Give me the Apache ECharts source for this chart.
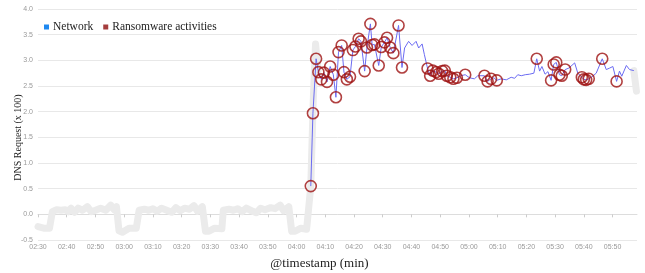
<!DOCTYPE html>
<html>
<head>
<meta charset="utf-8">
<script src="https://cdn.jsdelivr.net/npm/echarts@6/dist/echarts.min.js"></script>
<style>
  html, body { margin: 0; padding: 0; background: #fff; }
  #chart { width: 645px; height: 273px; }
</style>
</head>
<body>
<div id="chart"></div>
<script>
// time in minutes since 00:00, values in hundreds of DNS requests
var baseTime = [150,152,154,155,156.5,158,159.5,160.5,161.5,162.7,164,165.5,167.2,168.5,170,171.8,173.6,175.3,176.5,177.3,178.2,179.4,181.7,184.2,
  185.2,187,188.5,190,191.5,193,194.8,196.5,198,199.5,201,202.7,204.3,205.5,207.2,208.3,209.5,211.5,214,
  214.5,216.5,218,219.5,221,222.5,224.3,226,227.5,229,231,232.5,234.3,235.5,237.3,238.3,239.5,241.5,243.5,
  244.95,245.8,246.6,247.5];
var baseValue = [-0.24,-0.27,-0.27,0.05,0.09,0.08,0.09,0.05,0.12,0.04,0.12,0.08,0.15,0.05,0.08,0.12,0.08,0.18,0.09,0.15,-0.32,-0.35,-0.27,-0.27,
  0.08,0.1,0.08,0.11,0.06,0.12,0.08,0.04,0.13,0.07,0.12,0.1,0.17,0.06,0.15,-0.33,-0.33,-0.27,-0.28,
  0.08,0.1,0.08,0.11,0.05,0.12,0.07,0.03,0.12,0.09,0.13,0.11,0.18,0.07,0.15,-0.33,-0.33,-0.27,-0.29,
  0.55,2.2,3.32,2.8];
var baseEndTime = [357.4, 358.3];
var baseEndValue = [2.8, 2.4];

var networkTime = [244.95,245.7,246.8,247.6,248.6,249.5,250.6,251.7,252.8,253.7,254.6,255.7,256.5,257.5,258.6,259.6,260.5,261.6,262.4,263.7,264.5,265.7,266.3,267.1,268.6,269.5,270.6,271.5,272.6,273.7,275.5,276.7,
  277.6,279.0,280.2,281.6,282.5,283.7,284.5,
  285.6,286.5,287.4,288.6,289.5,290.7,291.6,292.3,293.5,294.6,295.8,
  297.2,298.7,300.2,301.9,303.1,305.4,306.5,307.7,308.7,309.7,
  311.2,313.0,314.7,315.9,317.0,318.2,319.6,321.1,322.6,
  323.6,324.6,325.4,326.5,327.5,328.6,329.5,330.4,331.5,332.3,333.5,334.8,336.8,337.9,
  339.3,340.0,340.8,341.7,343.1,344.3,346.4,347.8,349.0,350.1,351.4,352.4,353.2,354.8,355.9,357.4];
var networkValue = [0.55,1.97,3.03,2.77,2.63,2.76,2.58,2.88,2.72,2.28,3.16,3.29,2.77,2.63,2.68,3.2,3.27,3.42,3.37,2.79,3.25,3.71,3.30,3.31,2.9,3.26,3.35,3.44,3.25,3.14,3.68,2.86,
  3.24,3.37,3.29,3.37,3.24,3.32,3.11,
  2.84,2.70,2.80,2.77,2.74,2.79,2.80,2.70,2.67,2.64,2.66,
  2.70,2.72,2.66,2.64,2.70,2.70,2.59,2.64,2.66,2.61,
  2.64,2.62,2.67,2.65,2.72,2.70,2.72,2.73,2.75,
  3.03,2.79,2.88,2.73,2.78,2.61,2.92,2.96,2.72,2.70,2.82,2.85,2.95,2.75,
  2.67,2.63,2.62,2.64,2.69,2.75,3.03,2.82,2.85,2.88,2.59,2.79,2.69,2.90,2.82,2.80];

var ransomwareTime = [244.95,245.7,246.8,247.6,248.6,249.5,250.6,251.7,252.8,253.7,254.6,255.7,256.5,257.5,258.6,259.6,260.5,261.6,262.4,263.7,264.5,265.7,266.3,267.1,268.6,269.5,270.6,271.5,272.6,273.7,275.5,276.7,
  285.6,286.5,287.4,288.6,289.5,290.7,291.6,292.3,293.5,294.6,295.8,298.7,
  305.4,306.5,307.7,309.7,323.6,328.6,329.5,330.4,331.5,332.3,333.5,
  339.3,340.0,340.8,341.7,346.4,351.4];

function fmtTime(m) {
  var h = Math.floor(m / 60), mm = Math.round(m % 60);
  return (h < 10 ? '0' : '') + h + ':' + (mm < 10 ? '0' : '') + mm;
}

var networkData = [];
for (var i = 0; i < networkTime.length; i++) networkData.push([networkTime[i], networkValue[i]]);

var baseData = [];
for (var i = 0; i < baseTime.length; i++) baseData.push([baseTime[i], baseValue[i]]);
baseData.push([300, '-']); // gap: hidden behind the network line
for (var i = 0; i < baseEndTime.length; i++) baseData.push([baseEndTime[i], baseEndValue[i]]);

var ransomwareData = [];
for (var i = 0; i < ransomwareTime.length; i++) {
  var k = networkTime.indexOf(ransomwareTime[i]);
  ransomwareData.push([ransomwareTime[i], networkValue[k]]);
}

var myChart = echarts.init(document.getElementById('chart'));
var option = {
  animation: false,
  grid: { left: 38, right: 8, top: 9, bottom: 33, containLabel: false, outerBoundsMode: 'none' },
  legend: {
    left: 39, top: 16,
    icon: 'rect', itemWidth: 5, itemHeight: 5, itemGap: 10,
    textStyle: { fontFamily: 'Liberation Serif', fontSize: 11.5, color: '#222', padding: [0, 0, 0, -1] },
    data: [
      { name: 'Network', itemStyle: { color: '#1e88f0', borderWidth: 0 } },
      { name: 'Ransomware activities', itemStyle: { color: '#8e0e0e', borderWidth: 0 } }
    ]
  },
  xAxis: {
    type: 'value', min: 150, max: 358.5, interval: 10,
    name: '@timestamp (min)', nameLocation: 'middle', nameGap: 17, nameMoveOverlap: false,
    nameTextStyle: { fontFamily: 'Liberation Serif', fontSize: 13, color: '#222', padding: [0, 36, 0, 0] },
    axisLine: { lineStyle: { color: '#ddd' } },
    axisTick: { length: 3, lineStyle: { color: '#ccc' } },
    splitLine: { show: false },
    axisLabel: { fontSize: 7, color: '#999', margin: 4, showMaxLabel: false, formatter: fmtTime }
  },
  yAxis: {
    type: 'value', min: -0.5, max: 4.0, interval: 0.5,
    name: 'DNS Request (x 100)', nameLocation: 'middle', nameGap: 15, nameMoveOverlap: false,
    nameTextStyle: { fontFamily: 'Liberation Serif', fontSize: 10, color: '#222', padding: [0, 26, 0, 0] },
    axisLine: { show: false }, axisTick: { show: false },
    splitLine: { lineStyle: { color: '#e8e8e8' } },
    axisLabel: { fontSize: 7, color: '#999', margin: 5, formatter: function (v) { return v.toFixed(1); } }
  },
  series: [
    {
      name: 'base', type: 'line', data: baseData, showSymbol: false, z: 1,
      lineStyle: { color: '#ebebeb', width: 7, cap: 'round', join: 'round' }
    },
    {
      name: 'Network', type: 'line', data: networkData, showSymbol: false, z: 2,
      itemStyle: { color: '#1e88f0' },
      lineStyle: { color: '#6b6bf2', width: 1 }
    },
    {
      name: 'Ransomware activities', type: 'scatter', data: ransomwareData, z: 3,
      symbol: 'circle', symbolSize: 11,
      itemStyle: { color: 'rgba(0,0,0,0)', borderColor: '#9e1212', borderWidth: 1.6 }
    }
  ]
};
myChart.setOption(option);
</script>
</body>
</html>
